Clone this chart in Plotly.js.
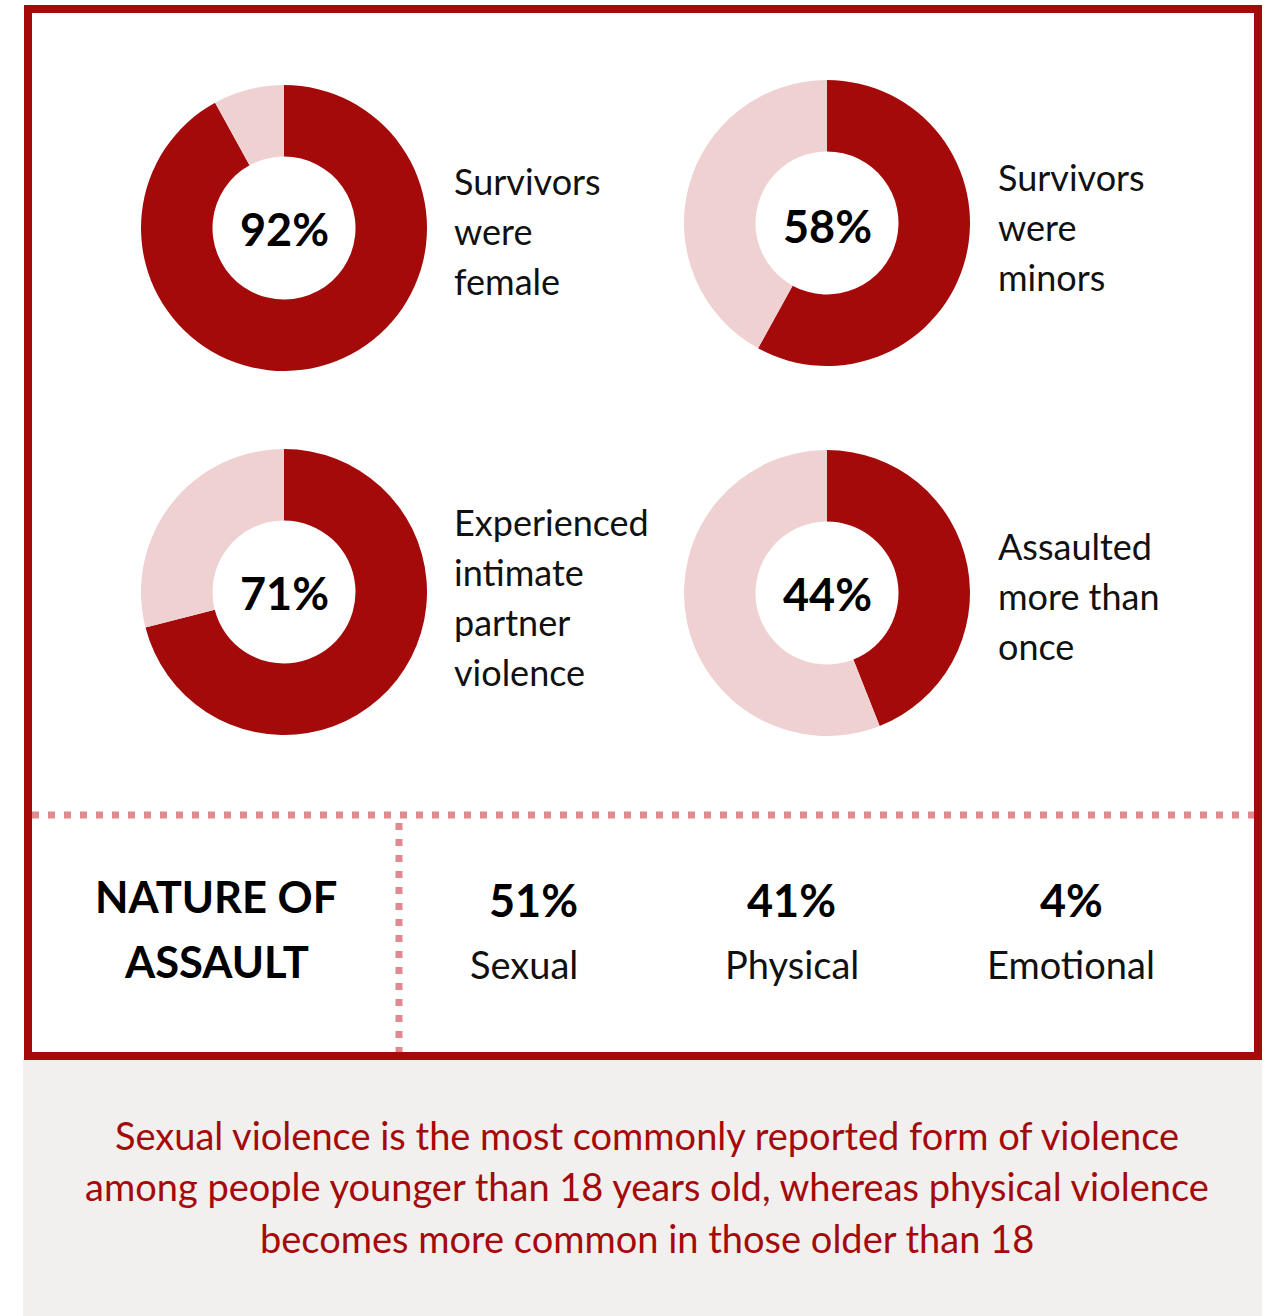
<!DOCTYPE html>
<html>
<head>
<meta charset="utf-8">
<script src="https://cdn.plot.ly/plotly-3.0.1.min.js"></script>
<style>
  html, body { margin: 0; padding: 0; background: #ffffff; }
  #chart { width: 1272px; height: 1316px; }
</style>
</head>
<body>
<div id="chart"></div>
<script>
// ---------- DATA ----------
const donutValues = [92, 58, 71, 44];
const donutLabels = [
  ["Survivors", "were", "female"],
  ["Survivors", "were", "minors"],
  ["Experienced", "intimate", "partner", "violence"],
  ["Assaulted", "more than", "once"]
];
const natureTitle = ["NATURE OF", "ASSAULT"];
const natureCategories = ["Sexual", "Physical", "Emotional"];
const natureValues = [51, 41, 4];
const captionLines = [
  "Sexual violence is the most commonly reported form of violence",
  "among people younger than 18 years old, whereas physical violence",
  "becomes more common in those older than 18"
];

// ---------- LAYOUT HELPERS ----------
const W = 1272, H = 1316;
const px = x => x / W;
const py = y => 1 - y / H;

const DARK = "#a50a0a";
const LIGHT = "#efd1d2";
const DOT = "#e08a8e";
const FONT = "Lato, 'Noto Sans', sans-serif";

// donut placement (pixel centres, radius)
const donutPos = [
  {cx: 284, cy: 228, labelX: 452, labelY: [181, 231, 281], pctY: 229},
  {cx: 827, cy: 223, labelX: 996, labelY: [177, 227, 277], pctY: 226},
  {cx: 284, cy: 592, labelX: 452, labelY: [522, 572, 622, 672], pctY: 593},
  {cx: 827, cy: 593, labelX: 996, labelY: [546, 596, 646], pctY: 594}
];
const R = 143;

const traces = donutValues.map((v, i) => {
  const p = donutPos[i];
  return {
    type: "pie",
    values: [v, 100 - v],
    labels: ["yes", "no"],
    sort: false,
    direction: "clockwise",
    rotation: 0,
    hole: 0.5,
    textinfo: "none",
    hoverinfo: "skip",
    showlegend: false,
    marker: {colors: [DARK, LIGHT], line: {width: 0}},
    domain: {
      x: [px(p.cx - R), px(p.cx + R)],
      y: [py(p.cy + R), py(p.cy - R)]
    }
  };
});

const annotations = [];
donutValues.forEach((v, i) => {
  const p = donutPos[i];
  annotations.push({
    xref: "paper", yref: "paper", x: px(p.cx), y: py(p.pctY),
    xanchor: "center", yanchor: "middle", showarrow: false,
    text: "<b>" + v + "%</b>",
    font: {family: FONT, size: 45, color: "#000000"}
  });
  donutLabels[i].forEach((line, j) => {
    annotations.push({
      xref: "paper", yref: "paper", x: px(p.labelX), y: py(p.labelY[j]),
      xanchor: "left", yanchor: "middle", showarrow: false,
      text: line,
      font: {family: FONT, size: 36, color: "#111111"}
    });
  });
});

// Nature of assault
const titleY = [896, 961];
const titleX = [216, 216];
natureTitle.forEach((t, j) => {
  annotations.push({
    xref: "paper", yref: "paper", x: px(titleX[j]), y: py(titleY[j]),
    xanchor: "center", yanchor: "middle", showarrow: false,
    text: "<b>" + t + "</b>",
    font: {family: FONT, size: 43.5, color: "#000000"}
  });
});
const natPctX = [533, 791, 1071];
const natLabX = [524, 792, 1071];
natureCategories.forEach((c, j) => {
  annotations.push({
    xref: "paper", yref: "paper", x: px(natPctX[j]), y: py(900),
    xanchor: "center", yanchor: "middle", showarrow: false,
    text: "<b>" + natureValues[j] + "%</b>",
    font: {family: FONT, size: 45, color: "#000000"}
  });
  annotations.push({
    xref: "paper", yref: "paper", x: px(natLabX[j]), y: py(964),
    xanchor: "center", yanchor: "middle", showarrow: false,
    text: c,
    font: {family: FONT, size: 38, color: "#111111"}
  });
});

// caption
const capY = [1135, 1186, 1238];
captionLines.forEach((t, j) => {
  annotations.push({
    xref: "paper", yref: "paper", x: px(647), y: py(capY[j]),
    xanchor: "center", yanchor: "middle", showarrow: false,
    text: t,
    font: {family: FONT, size: 38, color: DARK}
  });
});

const shapes = [
  // grey caption panel
  {type: "rect", xref: "paper", yref: "paper", layer: "below",
   x0: px(23), x1: px(1262), y0: py(1316), y1: py(1058),
   fillcolor: "#f1f0ef", line: {width: 0}},
  // dotted horizontal divider
  {type: "line", xref: "paper", yref: "paper", layer: "above",
   x0: px(32), x1: px(1254), y0: py(815), y1: py(815),
   line: {color: DOT, width: 7, dash: "7px,9px"}},
  // dotted vertical divider
  {type: "line", xref: "paper", yref: "paper", layer: "above",
   x0: px(399), x1: px(399), y0: py(823), y1: py(1052),
   line: {color: DOT, width: 7, dash: "7px,9px"}},
  // red frame
  {type: "rect", xref: "paper", yref: "paper", layer: "above",
   x0: px(28), x1: px(1258), y0: py(1056), y1: py(9),
   fillcolor: "rgba(0,0,0,0)", line: {color: DARK, width: 8}}
];

const layout = {
  width: W, height: H,
  margin: {l: 0, r: 0, t: 0, b: 0, pad: 0},
  paper_bgcolor: "#ffffff",
  plot_bgcolor: "#ffffff",
  showlegend: false,
  annotations: annotations,
  shapes: shapes
};

Plotly.newPlot("chart", traces, layout, {displayModeBar: false, staticPlot: true});
</script>
</body>
</html>
